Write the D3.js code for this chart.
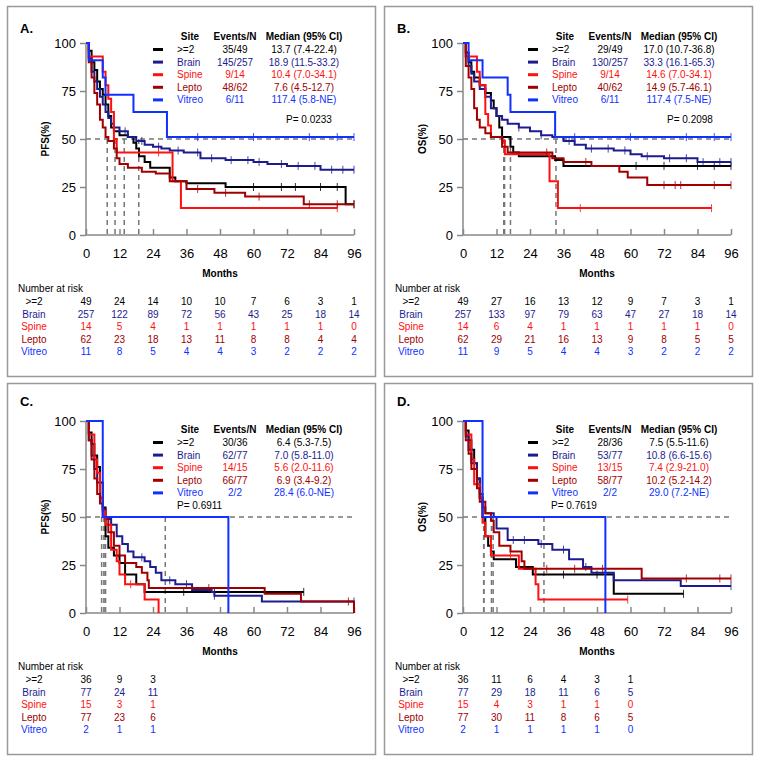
<!DOCTYPE html>
<html><head><meta charset="utf-8">
<script src="https://cdn.jsdelivr.net/npm/d3@7"></script>
<style>body{margin:0;background:#fff}svg{font-family:"Liberation Sans",Arial,sans-serif}</style>
</head><body><svg id="chart" width="759" height="762"></svg>
<script>
// Series names and colours
const sites = [">=2", "Brain", "Spine", "Lepto", "Vitreo"];
const colors = ["#000000", "#1c1c8f", "#ff1010", "#a00000", "#1030ff"];
const xTicks = [0, 12, 24, 36, 48, 60, 72, 84, 96];
const yTicks = [0, 25, 50, 75, 100];

// Kaplan-Meier steps per panel: [time, survival%] (last point = end of follow-up)
const stepsA = [
  [[0,100],[1,96],[2,90],[3,86],[4,80],[5,76],[6,73],[7,68],[8,62],[9,56],[10,54],[12,52],[15,51],[17,48],[18,45],[19,41],[21,38],[23,35],[30,30],[32,28],[36,27],[50,25],[93,16],[96,16]],
  [[0,100],[1,92],[2,85],[3,80],[4,76],[5,72],[6,68],[7,64],[8,61],[9,58],[10,56],[12,54],[15,51],[18,49],[21,47],[24,46],[27,45],[30,44],[35,43],[41,40],[50,39],[60,38],[65,37],[72,36],[84,34],[96,34]],
  [[0,100],[1,93],[6,85],[7,78],[8,71],[9,64],[10,50],[11,43],[31,28],[34,14],[90,14]],
  [[0,100],[1,90],[2,82],[3,74],[4,68],[5,60],[6,56],[7,51],[8,49],[10,45],[11,40],[12,37],[15,35],[20,33],[25,32],[30,28],[36,24],[46,22],[57,20],[78,16],[96,16]],
  [[0,100],[1,91],[6,82],[7,73],[17,64],[29,51],[96,51]]
];
const stepsB = [
  [[0,100],[1,95],[2,90],[3,85],[4,82],[6,78],[8,74],[10,70],[11,66],[12,62],[13,56],[14,51],[17,46],[18,43],[20,41],[33,39],[36,36],[96,36]],
  [[0,100],[1,93],[2,88],[3,84],[4,80],[6,76],[8,72],[10,66],[12,62],[14,60],[16,58],[20,56],[24,54],[28,52],[32,51],[36,49],[40,47],[44,45],[54,44],[60,42],[64,41],[72,40],[84,38],[96,38]],
  [[0,100],[1,93],[5,85],[6,78],[8,63],[9,57],[10,51],[14,49],[15,42],[31,28],[34,14],[89,14]],
  [[0,100],[1,88],[2,82],[3,76],[4,66],[5,60],[6,56],[8,53],[10,51],[14,46],[16,43],[32,40],[36,38],[46,36],[56,33],[59,30],[66,26],[96,26]],
  [[0,100],[2,91],[7,82],[16,73],[17,64],[33,51],[96,51]]
];
const stepsC = [
  [[0,100],[1,94],[2,88],[3,82],[4,76],[5,68],[6,55],[7,40],[8,34],[10,30],[12,26],[14,20],[18,15],[21,11],[78,11]],
  [[0,100],[1,90],[2,82],[3,75],[4,68],[5,60],[6,54],[7,49],[9,46],[11,40],[13,36],[15,32],[17,29],[21,27],[23,24],[25,21],[27,17],[32,15],[38,12],[45,11],[46,9],[63,6],[96,6]],
  [[0,100],[1,93],[3,80],[4,73],[5,60],[6,53],[7,46],[9,33],[11,27],[12,20],[14,15],[21,7],[26,0]],
  [[0,100],[1,90],[2,80],[3,70],[4,62],[5,57],[6,50],[8,42],[10,35],[12,30],[14,26],[18,24],[20,21],[22,17],[22.5,13],[64,10],[77,6],[96,0]],
  [[0,100],[6,50],[51,0]]
];
const stepsD = [
  [[0,100],[1,95],[2,90],[3,85],[4,78],[5,70],[6,60],[7,50],[8,40],[9,35],[10,32],[11,28],[19,24],[25,20],[54,10],[79,10]],
  [[0,100],[1,92],[2,85],[3,78],[5,70],[6,62],[7,55],[8,52],[11,50],[12,44],[16,38],[27,36],[32,33],[38,28],[43,24],[46,21],[54,17],[78,14],[96,14]],
  [[0,100],[1,93],[3,80],[4,67],[6,60],[7,47],[8,40],[10,30],[20,23],[26,15],[27,7],[59,7]],
  [[0,100],[1,90],[2,83],[3,75],[5,65],[6,58],[8,52],[10,48],[11,42],[13,35],[17,32],[21,27],[22,23],[64,18],[96,18]],
  [[0,100],[7,50],[51,0]]
];

// Censor marks (months)
const censA = [[60,70,75,84,90],[14,20,26,33,40,45,52,58,62,70,76,82,88,92],[26],[40,50,62,80,90],[40,60,80,90]];
const censB = [[62,72,84,90],[20,28,38,46,52,58,66,74,80,86,92],[14,42],[30,44,72,76,78,90],[40,60,80,90]];
const censC = [[35,46],[20,30,36,46],[16],[44,94],[]];
const censD = [[36,48],[18,22,28,36,44],[17],[30,40,50,80,92],[]];

// Legend text
const eventsA = ["35/49","145/257","9/14","48/62","6/11"];
const medianA = ["13.7 (7.4-22.4)","18.9 (11.5-33.2)","10.4 (7.0-34.1)","7.6 (4.5-12.7)","117.4 (5.8-NE)"];
const eventsB = ["29/49","130/257","9/14","40/62","6/11"];
const medianB = ["17.0 (10.7-36.8)","33.3 (16.1-65.3)","14.6 (7.0-34.1)","14.9 (5.7-46.1)","117.4 (7.5-NE)"];
const eventsC = ["30/36","62/77","14/15","66/77","2/2"];
const medianC = ["6.4 (5.3-7.5)","7.0 (5.8-11.0)","5.6 (2.0-11.6)","6.9 (3.4-9.2)","28.4 (6.0-NE)"];
const eventsD = ["28/36","53/77","13/15","58/77","2/2"];
const medianD = ["7.5 (5.5-11.6)","10.8 (6.6-15.6)","7.4 (2.9-21.0)","10.2 (5.2-14.2)","29.0 (7.2-NE)"];
const medLinesA = [7.6, 10.4, 13.7, 18.9];
const medLinesB = [14.6, 14.9, 17.0, 33.3];
const medLinesC = [5.6, 6.4, 6.9, 7.0, 28.4];
const medLinesD = [7.4, 7.5, 10.2, 10.8, 29.0];

// Number at risk
const riskA = [[49,24,14,10,10,7,6,3,1],[257,122,89,72,56,43,25,18,14],[14,5,4,1,1,1,1,1,0],[62,23,18,13,11,8,8,4,4],[11,8,5,4,4,3,2,2,2]];
const riskB = [[49,27,16,13,12,9,7,3,1],[257,133,97,79,63,47,27,18,14],[14,6,4,1,1,1,1,1,0],[62,29,21,16,13,9,8,5,5],[11,9,5,4,4,3,2,2,2]];
const riskC = [[36,9,3],[77,24,11],[15,3,1],[77,23,6],[2,1,1]];
const riskD = [[36,11,6,4,3,1],[77,29,18,11,6,5],[15,4,3,1,1,0],[77,30,11,8,6,5],[2,1,1,1,1,0]];

const panels = [
  {ox:0, oy:0, label:"A.", yl:"PFS(%)", steps:stepsA, cens:censA, ev:eventsA, med:medianA, ml:medLinesA, risk:riskA, p:"P= 0.0233", pPos:[286,123], legY:40, legX:153},
  {ox:377, oy:0, label:"B.", yl:"OS(%)", steps:stepsB, cens:censB, ev:eventsB, med:medianB, ml:medLinesB, risk:riskB, p:"P= 0.2098", pPos:[290,123], legY:40, legX:151},
  {ox:0, oy:377, label:"C.", yl:"PFS(%)", steps:stepsC, cens:censC, ev:eventsC, med:medianC, ml:medLinesC, risk:riskC, p:"P= 0.6911", pPos:[177,132], legY:56, legX:153},
  {ox:377, oy:377, label:"D.", yl:"OS(%)", steps:stepsD, cens:censD, ev:eventsD, med:medianD, ml:medLinesD, risk:riskD, p:"P= 0.7619", pPos:[174,132], legY:56, legX:151}
];

const svg = d3.select('#chart');

panels.forEach(P => {
  const g = svg.append('g').attr('transform', `translate(${P.ox},${P.oy})`);
  const isTop = P.oy === 0;
  // box
  g.append('rect').attr('x', 7.5).attr('y', 6.5).attr('width', 368).attr('height', isTop ? 370 : 371)
    .attr('fill', 'none').attr('stroke', '#999').attr('stroke-width', 1.5);
  g.append('text').attr('x', 20).attr('y', isTop ? 33 : 29).attr('font-size', 13).attr('font-weight', 700).text(P.label);

  const x0 = 86;
  const y100 = isTop ? 43 : 44;
  const x = d3.scaleLinear().domain([0, 96]).range([x0, x0 + 268]);
  const y = d3.scaleLinear().domain([0, 100]).range([y100 + 192, y100]);

  // axes (x ticks point up into the plot, as in the original)
  const ax = g.append('g').attr('transform', `translate(0,${y(0)})`)
    .call(d3.axisBottom(x).tickValues(xTicks).tickSizeInner(-6).tickSizeOuter(0).tickPadding(14));
  const ay = g.append('g').attr('transform', `translate(${x0},0)`)
    .call(d3.axisLeft(y).tickValues(yTicks).tickSize(6).tickPadding(4));
  [ax, ay].forEach(a => {
    a.selectAll('path,line').attr('stroke', '#888').attr('stroke-width', 1.5);
    a.selectAll('text').attr('font-size', 13).attr('fill', '#000').attr('font-family', '"Liberation Sans",Arial,sans-serif');
  });
  ax.select('.domain').attr('d', `M${x0},0H${x0 + 268}`);
  ay.select('.domain').attr('d', `M0,${y(0)}V${y(100)}`);

  g.append('text').attr('transform', `translate(49,${y(50)}) rotate(-90)`).attr('text-anchor', 'middle')
    .attr('font-size', 10).attr('font-weight', 700).text(P.yl);
  g.append('text').attr('x', x(48)).attr('y', y(0) + 42).attr('text-anchor', 'middle')
    .attr('font-size', 10).attr('font-weight', 700).text('Months');

  // median reference lines
  const dash = '5,4';
  g.append('line').attr('x1', x(0)).attr('x2', x(96)).attr('y1', y(50)).attr('y2', y(50))
    .attr('stroke', '#777').attr('stroke-width', 1.5).attr('stroke-dasharray', dash);
  P.ml.forEach(m => g.append('line').attr('x1', x(m)).attr('x2', x(m)).attr('y1', y(50)).attr('y2', y(0))
    .attr('stroke', '#777').attr('stroke-width', 1.5).attr('stroke-dasharray', dash));

  // curves
  const line = d3.line().x(d => x(d[0])).y(d => y(d[1])).curve(d3.curveStepAfter);
  P.steps.forEach((s, i) => {
    g.append('path').attr('d', line(s)).attr('fill', 'none').attr('stroke', colors[i]).attr('stroke-width', 2);
    const interp = t => { let v = 100; s.forEach(p => { if (p[0] <= t) v = p[1]; }); return v; };
    const last = s[s.length - 1];
    const marks = P.cens[i].slice();
    if (last[1] > 0) marks.push(last[0]);
    marks.forEach(t => g.append('line').attr('x1', x(t)).attr('x2', x(t))
      .attr('y1', y(interp(t)) - 4).attr('y2', y(interp(t)) + 4)
      .attr('stroke', colors[i]).attr('stroke-width', 1).attr('opacity', 0.8));
  });

  // legend
  const lx = P.legX, ly = P.legY;
  const hdr = [[lx + 37, 'Site'], [lx + 82, 'Events/N'], [lx + 151, 'Median (95% CI)']];
  hdr.forEach(h => g.append('text').attr('x', h[0]).attr('y', ly).attr('text-anchor', 'middle')
    .attr('font-size', 10).attr('font-weight', 700).text(h[1]));
  sites.forEach((s, i) => {
    const yy = ly + 13 + i * 12.6;
    g.append('line').attr('x1', lx).attr('x2', lx + 10).attr('y1', yy - 3.5).attr('y2', yy - 3.5)
      .attr('stroke', colors[i]).attr('stroke-width', 3);
    g.append('text').attr('x', lx + 24).attr('y', yy).attr('font-size', 10).attr('fill', colors[i]).text(s);
    g.append('text').attr('x', lx + 82).attr('y', yy).attr('text-anchor', 'middle').attr('font-size', 10).attr('fill', colors[i]).text(P.ev[i]);
    g.append('text').attr('x', lx + 151).attr('y', yy).attr('text-anchor', 'middle').attr('font-size', 10).attr('fill', colors[i]).text(P.med[i]);
  });
  g.append('text').attr('x', P.pPos[0]).attr('y', P.pPos[1]).attr('font-size', 10).text(P.p);

  // number at risk
  const ry = y(0) + 57;
  g.append('text').attr('x', 18).attr('y', ry).attr('font-size', 10).text('Number at risk');
  P.risk.forEach((row, i) => {
    const yy = ry + 13 + i * 12.6;
    g.append('text').attr('x', 34).attr('y', yy).attr('text-anchor', 'middle').attr('font-size', 10).attr('fill', colors[i]).text(sites[i]);
    row.forEach((v, j) => g.append('text').attr('x', x(xTicks[j])).attr('y', yy).attr('text-anchor', 'middle')
      .attr('font-size', 10).attr('fill', colors[i]).text(v));
  });
});
</script></body></html>
